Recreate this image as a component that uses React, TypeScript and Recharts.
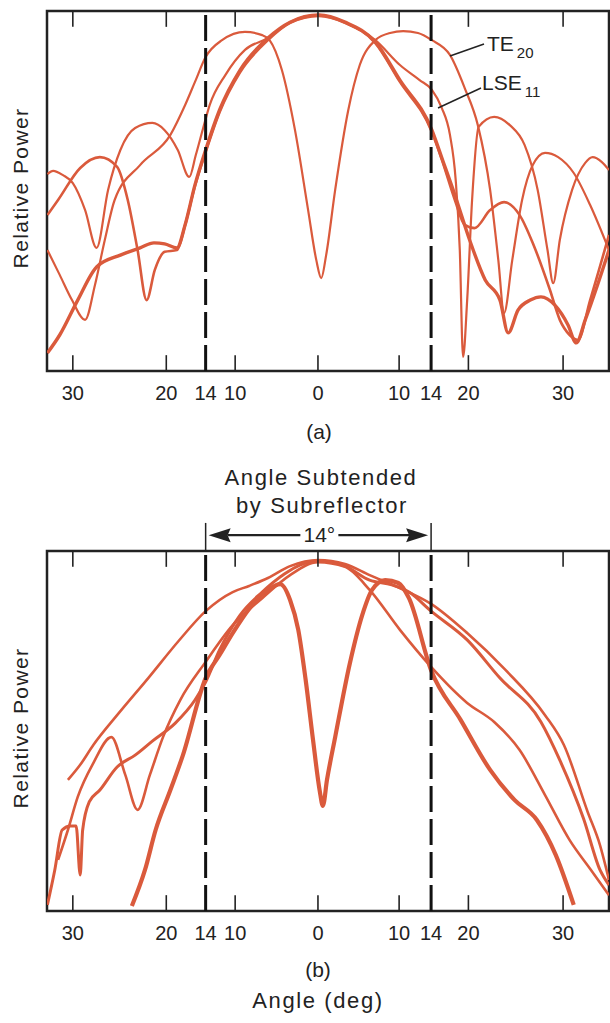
import React from 'react';
import { LineChart, Line, XAxis, YAxis, ReferenceLine, ReferenceArea } from 'recharts';

// x = position on the plotted angle axis (the printed scale is not uniform), y = relative power 0..100
const X_MIN = -33.05;
const X_MAX = 35.5;

const tickPos = [-29.9, -18.5, -13.7, -10.1, 0, 9.9, 13.8, 18.35, 29.9];
const tickLabels = ['30', '20', '14', '10', '0', '10', '14', '20', '30'];
const markPos = [-29.9, -18.5, -10.1, 0, 9.9, 18.35, 29.9];
const subreflectorEdges = [-13.7, 13.8];

// panel (a)
const te20A = [
  [-33.0, 33.6], [-31.5, 26.7], [-30.0, 19.7], [-28.4, 14.2], [-27.2, 23.9], [-26.0, 36.4],
  [-24.8, 47.5], [-21.7, 57.2], [-18.0, 65.6], [-16.2, 73.9], [-15.0, 80.3], [-13.7, 87.2],
  [-11.7, 91.9], [-8.9, 94.2], [-6.8, 93.3], [-5.9, 91.9], [-4.4, 83.6], [-2.8, 66.9],
  [-1.2, 44.7], [-0.2, 30.8], [0.4, 25.8], [1.0, 32.2], [2.1, 50.3], [3.7, 72.5],
  [5.1, 85.0], [7.0, 91.9], [8.8, 93.9], [10.4, 94.4], [12.2, 93.9], [13.9, 91.9],
  [16.1, 87.8], [17.9, 78.6], [19.5, 68.3], [21.0, 50.3], [22.0, 30.8], [22.7, 16.1],
  [23.7, 30.8], [24.9, 47.5], [26.2, 57.2], [27.7, 60.6], [29.3, 59.4], [31.2, 55.0],
  [33.2, 46.1], [35.5, 33.6],
];
const lse11A = [
  [-33.0, 54.7], [-32.3, 55.6], [-31.1, 54.4], [-29.9, 52.2], [-28.4, 44.7], [-27.0, 34.2],
  [-25.6, 50.3], [-24.1, 61.4], [-22.3, 67.5], [-20.2, 68.9], [-18.7, 66.9], [-17.1, 61.4],
  [-15.7, 53.9], [-14.9, 60.0], [-14.0, 67.5], [-13.2, 73.9], [-11.3, 82.2], [-8.9, 89.2],
  [-6.1, 92.5], [-3.4, 96.9], [0.1, 98.9], [3.3, 96.9], [7.0, 91.9], [10.0, 85.0],
  [12.4, 80.8], [13.9, 78.1], [15.1, 73.1], [16.1, 65.6], [16.8, 53.1], [17.3, 33.6],
  [17.7, 3.9], [18.2, 19.7], [18.8, 47.5], [19.6, 67.8], [21.5, 70.6], [23.4, 68.3],
  [25.2, 62.8], [26.8, 50.3], [28.0, 33.6], [28.7, 24.4], [29.5, 36.4], [31.0, 50.3],
  [32.6, 57.8], [33.5, 59.4], [34.6, 58.1], [35.5, 55.8],
];
const lowerA = [
  [-33.0, 5.0], [-31.5, 10.0], [-29.3, 19.7], [-27.0, 28.9], [-24.1, 32.2], [-21.7, 34.2],
  [-20.0, 35.6], [-18.7, 35.3], [-17.2, 34.2], [-16.2, 40.6], [-15.0, 51.7], [-13.7, 61.4],
  [-12.0, 72.5], [-9.5, 83.6], [-6.1, 92.5], [-3.4, 96.9], [0.1, 98.9], [3.3, 96.9],
  [7.0, 91.4], [10.0, 80.8], [13.9, 66.9], [15.2, 58.6], [16.7, 48.9], [18.5, 36.4],
  [20.4, 25.3], [22.2, 19.7], [23.2, 10.6], [24.4, 16.9], [25.9, 19.7], [27.2, 20.6],
  [28.9, 18.3], [30.5, 12.8], [31.5, 7.8], [32.6, 14.2], [34.1, 23.9], [35.5, 33.6],
];
const shoulderA = [
  [-33.0, 43.3], [-31.7, 47.5], [-29.0, 56.4], [-26.6, 59.4], [-24.5, 56.7], [-23.2, 47.5],
  [-22.0, 33.6], [-20.9, 19.7], [-19.9, 28.1], [-18.7, 33.1], [-17.2, 33.6], [-16.2, 40.6],
  [-15.0, 51.4], [-13.7, 60.8], [-12.0, 71.9], [-9.5, 83.0], [-6.1, 91.9], [-3.4, 96.7],
  [0.1, 98.6], [3.3, 96.7], [7.0, 91.1], [10.0, 80.3], [13.9, 66.4], [15.2, 58.1],
  [16.7, 47.5], [17.9, 40.6], [19.1, 39.7], [21.0, 44.7], [22.7, 46.9], [24.6, 43.3],
  [26.3, 35.0], [28.3, 22.5], [29.5, 14.2], [30.7, 10.0], [31.7, 8.6], [33.2, 19.7],
  [35.5, 37.8],
];

// panel (b)
const outerB = [
  [-30.5, 36.4], [-29.0, 40.6], [-27.4, 46.1], [-24.5, 54.4], [-20.7, 64.7], [-17.0, 75.0],
  [-13.7, 83.3], [-10.4, 88.6], [-8.4, 90.3], [-6.1, 92.5], [-3.4, 95.8], [0, 97.5],
  [3.3, 96.4], [6.3, 93.3], [10.0, 89.7], [13.8, 85.3], [18.2, 77.2], [22.9, 66.9],
  [27.7, 54.4], [30.0, 46.1], [32.9, 27.5], [34.4, 18.3], [35.5, 8.6],
];
const ledgeB = [
  [-33.0, 1.7], [-32.1, 11.4], [-31.2, 22.5], [-30.2, 23.6], [-29.5, 23.6], [-29.0, 10.0],
  [-28.7, 22.5], [-27.9, 30.3], [-26.6, 33.6], [-24.5, 40.0], [-22.3, 43.3], [-20.2, 47.2],
  [-17.4, 52.2], [-15.0, 58.6], [-13.7, 63.6], [-12.0, 72.5], [-9.5, 82.2], [-6.8, 88.6],
  [-4.1, 93.6], [-2.2, 96.1], [0, 97.2], [3.3, 95.8], [6.3, 91.9], [9.0, 90.6],
  [11.1, 88.6], [13.8, 83.3], [18.2, 75.3], [22.2, 64.7], [27.2, 52.5], [29.5, 41.9],
  [32.4, 25.6], [34.4, 11.4], [35.5, 7.2],
];
const spikeB = [
  [-31.7, 14.2], [-30.5, 22.5], [-29.3, 31.7], [-27.4, 41.1], [-25.2, 48.3], [-23.5, 37.8],
  [-22.0, 28.1], [-20.5, 37.8], [-18.9, 48.3], [-16.8, 58.6], [-13.7, 69.2], [-10.4, 79.4],
  [-6.8, 86.9], [-3.4, 93.3], [0, 96.9], [3.3, 95.6], [6.3, 89.2], [10.0, 78.1],
  [13.8, 67.8], [18.2, 57.8], [21.5, 52.5], [24.6, 44.7], [27.7, 32.2], [30.7, 19.7],
  [33.3, 11.4], [35.5, 4.4],
];
const nullB = [
  [-22.7, 1.4], [-21.1, 11.4], [-19.8, 22.5], [-18.0, 33.6], [-16.5, 43.1], [-13.7, 64.7],
  [-12.0, 71.1], [-10.4, 77.2], [-8.3, 84.2], [-6.1, 89.2], [-4.6, 90.8], [-3.4, 86.4],
  [-2.4, 78.1], [-1.5, 64.2], [-0.6, 47.5], [0.2, 33.6], [0.6, 29.2], [1.1, 36.4],
  [2.1, 48.3], [3.9, 68.9], [5.4, 82.2], [6.6, 89.2], [8.2, 91.9], [9.8, 91.1],
  [11.1, 86.9], [13.8, 66.9], [17.4, 53.1], [21.0, 39.2], [24.0, 30.8], [26.7, 25.3],
  [29.0, 15.6], [31.2, 1.7],
];

const RED = '#da5a3c';
const INK = '#222';
const FONT = '"Liberation Sans", Arial, Helvetica, sans-serif';

type Trace = { pts: number[][]; w: number };

const toRows = (pts: number[][]) => pts.map(([x, y]) => ({ x, y }));

const ArrowShape = (props: any) => {
  const { x1, y1, x2 } = props;
  const y = y1;
  const mid = (x1 + x2) / 2;
  const head = 22;
  return (
    <g>
      <line x1={x1 + head} y1={y} x2={mid - 18} y2={y} stroke={INK} strokeWidth={2.2} />
      <line x1={mid + 20} y1={y} x2={x2 - head} y2={y} stroke={INK} strokeWidth={2.2} />
      <polygon points={`${x1 + 3},${y} ${x1 + head + 3},${y - 7} ${x1 + head},${y} ${x1 + head + 3},${y + 7}`} fill={INK} />
      <polygon points={`${x2 - 3},${y} ${x2 - head - 3},${y - 7} ${x2 - head},${y} ${x2 - head - 3},${y + 7}`} fill={INK} />
      <text x={mid + 1} y={y + 7} textAnchor="middle" fontSize={21} fontFamily={FONT} fill={INK}>14°</text>
    </g>
  );
};

const Panel = ({ traces, height, marginTop, subtended }: { traces: Trace[]; height: number; marginTop: number; subtended?: boolean }) => (
  <LineChart width={610} height={height} margin={{ top: marginTop, right: 1, left: 47, bottom: 0 }}>
    <XAxis
      type="number"
      dataKey="x"
      domain={[X_MIN, X_MAX]}
      allowDataOverflow
      ticks={tickPos}
      interval={0}
      tickFormatter={(v: number, i: number) => tickLabels[i]}
      axisLine={false}
      tickLine={false}
      tickSize={6}
      tickMargin={9}
      height={height - marginTop - 360}
      tick={{ fontSize: 20, fill: INK, fontFamily: FONT }}
    />
    <YAxis type="number" domain={[0, 100]} allowDataOverflow hide />
    {traces.map((t, i) => (
      <Line
        key={i}
        data={toRows(t.pts)}
        dataKey="y"
        type="monotone"
        stroke={RED}
        strokeWidth={t.w}
        strokeLinejoin="round"
        dot={false}
        activeDot={false}
        isAnimationActive={false}
      />
    ))}
    {markPos.map((p) => (
      <ReferenceLine key={'b' + p} segment={[{ x: p, y: 0 }, { x: p, y: 4.4 }]} stroke={INK} strokeWidth={1.6} />
    ))}
    {markPos.map((p) => (
      <ReferenceLine key={'t' + p} segment={[{ x: p, y: 100 }, { x: p, y: 95.6 }]} stroke={INK} strokeWidth={1.6} />
    ))}
    {subreflectorEdges.map((p) => (
      <ReferenceLine key={'d' + p} x={p} stroke="#111" strokeWidth={3} strokeDasharray="26 7" />
    ))}
    {subtended && subreflectorEdges.map((p) => (
      <ReferenceLine key={'u' + p} segment={[{ x: p, y: 100 }, { x: p, y: 107.8 }]} ifOverflow="visible" stroke={INK} strokeWidth={1.5} />
    ))}
    {subtended && (
      <ReferenceLine
        segment={[{ x: subreflectorEdges[0], y: 104.4 }, { x: subreflectorEdges[1], y: 104.4 }]}
        ifOverflow="visible"
        shape={ArrowShape}
      />
    )}
    <ReferenceArea x1={X_MIN} x2={X_MAX} y1={0} y2={100} fill="none" stroke={INK} strokeWidth={2.5} ifOverflow="visible" />
  </LineChart>
);

const txt = (left: number, top: number, size: number, extra: React.CSSProperties = {}): React.CSSProperties => ({
  position: 'absolute',
  left,
  top,
  transform: 'translate(-50%, -50%)',
  fontSize: size,
  lineHeight: 1,
  whiteSpace: 'nowrap',
  color: INK,
  fontFamily: FONT,
  ...extra,
});

export default function App() {
  const tracesA: Trace[] = [
    { pts: te20A, w: 2.2 },
    { pts: lse11A, w: 2.2 },
    { pts: lowerA, w: 3.4 },
    { pts: shoulderA, w: 2.6 },
  ];
  const tracesB: Trace[] = [
    { pts: outerB, w: 2.6 },
    { pts: ledgeB, w: 3 },
    { pts: spikeB, w: 2.6 },
    { pts: nullB, w: 4.2 },
  ];
  return (
    <div style={{ position: 'absolute', left: 0, top: 0, width: 610, height: 1023, background: '#fff', overflow: 'hidden' }}>
      <div style={{ position: 'absolute', left: 0, top: 0 }}>
        <Panel traces={tracesA} height={440} marginTop={11} />
      </div>
      <div style={{ position: 'absolute', left: 0, top: 440 }}>
        <Panel traces={tracesB} height={530} marginTop={111} subtended />
      </div>

      <div style={txt(20, 188, 21, { transform: 'translate(-50%, -50%) rotate(-90deg)', letterSpacing: 1.4 })}>Relative Power</div>
      <div style={txt(20, 728, 21, { transform: 'translate(-50%, -50%) rotate(-90deg)', letterSpacing: 1.4 })}>Relative Power</div>

      <div style={txt(319, 431, 21)}>(a)</div>
      <div style={txt(321, 478, 22, { letterSpacing: 1.6 })}>Angle Subtended</div>
      <div style={txt(322, 506, 22, { letterSpacing: 1.6 })}>by Subreflector</div>
      <div style={txt(318, 969, 21)}>(b)</div>
      <div style={txt(318, 1001, 22, { letterSpacing: 1.6 })}>Angle (deg)</div>

      <svg width={610} height={110} style={{ position: 'absolute', left: 0, top: 0, pointerEvents: 'none' }}>
        <line x1={450} y1={56} x2={484} y2={44} stroke={INK} strokeWidth={1.5} />
        <line x1={438} y1={108} x2={481} y2={88} stroke={INK} strokeWidth={1.5} />
      </svg>
      <div style={{ position: 'absolute', left: 487, top: 33, fontSize: 21, lineHeight: 1, color: INK, fontFamily: FONT, whiteSpace: 'nowrap' }}>
        TE<span style={{ fontSize: 15, position: 'relative', top: 7, marginLeft: 3 }}>20</span>
      </div>
      <div style={{ position: 'absolute', left: 482, top: 72, fontSize: 21, lineHeight: 1, color: INK, fontFamily: FONT, whiteSpace: 'nowrap' }}>
        LSE<span style={{ fontSize: 15, position: 'relative', top: 7, marginLeft: 3 }}>11</span>
      </div>
    </div>
  );
}
